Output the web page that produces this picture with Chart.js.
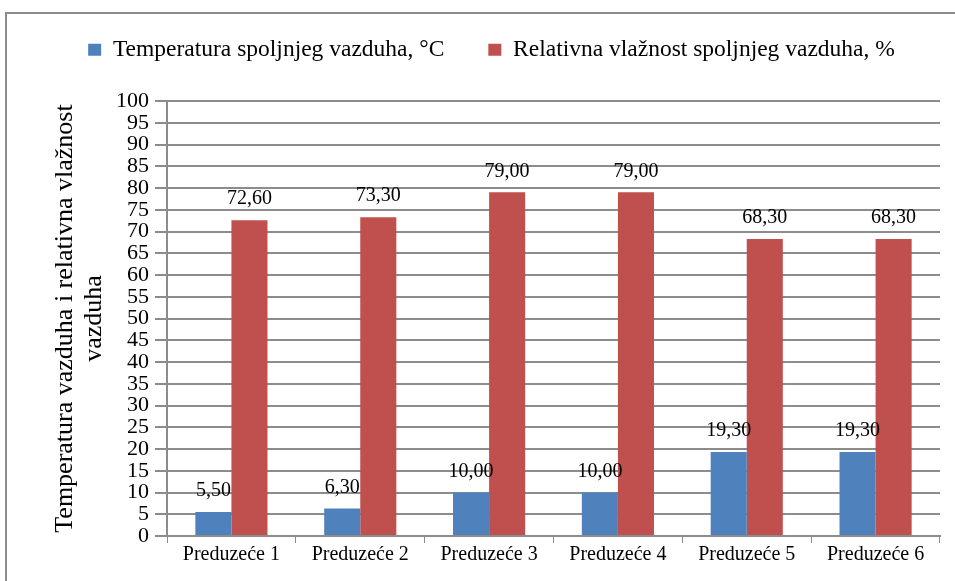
<!DOCTYPE html>
<html>
<head>
<meta charset="utf-8">
<script src="https://cdn.jsdelivr.net/npm/chart.js@4/dist/chart.umd.min.js"></script>
<style>
  body { margin: 0; background: #fff; }
  #box { position: absolute; left: 5px; top: 12px; width: 948px; height: 575px; border: 2px solid #8c8c8c; border-right: none; border-bottom: none; }
  #wrap { position: absolute; left: 0; top: 0; width: 948px; height: 569px; }
</style>
</head>
<body>
<div id="box"><div id="wrap"><canvas id="myChart"></canvas></div></div>
<script>
const labels = ["Preduzeće 1", "Preduzeće 2", "Preduzeće 3", "Preduzeće 4", "Preduzeće 5", "Preduzeće 6"];
const temperature = [5.5, 6.3, 10.0, 10.0, 19.3, 19.3];
const humidity = [72.6, 73.3, 79.0, 79.0, 68.3, 68.3];

// value labels above each bar, with a comma decimal
const barLabels = {
  id: "barLabels",
  afterDatasetsDraw(chart) {
    const ctx = chart.ctx;
    ctx.save();
    ctx.font = "20px 'Liberation Serif'";
    ctx.fillStyle = "#000";
    ctx.textAlign = "center";
    ctx.textBaseline = "bottom";
    chart.data.datasets.forEach((ds, i) => {
      chart.getDatasetMeta(i).data.forEach((bar, j) => {
        const txt = ds.data[j].toFixed(2).replace(".", ",");
        ctx.fillText(txt, bar.x, bar.y - 11);
      });
    });
    ctx.restore();
  },
};

// wide gap between legend items, fixed legend height
const legendGap = {
  id: "legendGap",
  beforeUpdate(chart) {
    const lg = chart.legend;
    if (lg && !lg._gapPatched) {
      const fit = lg.fit;
      lg.fit = function () {
        fit.call(this);
        this.height = 81;
      };
      const draw = lg.draw;
      lg.draw = function () {
        const ctx = this.ctx;
        ctx.save();
        ctx.translate(18, -26);
        draw.call(this);
        ctx.restore();
      };
      lg._gapPatched = true;
    }
  },
};

const data = {
  labels: labels,
  datasets: [
    {
      label: "Temperatura spoljnjeg vazduha, °C",
      backgroundColor: "#4f81bd",
      data: temperature,
    },
    {
      label: "Relativna vlažnost spoljnjeg vazduha, %",
      backgroundColor: "#c0504d",
      data: humidity,
    },
  ],
};

const config = {
  type: "bar",
  data: data,
  options: {
    responsive: true,
    maintainAspectRatio: false,
    animation: false,
    datasets: { bar: { barPercentage: 1, categoryPercentage: 0.56 } },
    layout: { padding: { left: 0, right: 15, top: 6, bottom: 16 } },
    plugins: {
      legend: {
        position: "top",
        labels: {
          boxWidth: 13,
          boxHeight: 12,
          padding: 44,
          color: "#000",
          font: { family: "'Liberation Serif'", size: 23.5 },
        },
      },
      tooltip: { enabled: false },
    },
    scales: {
      x: {
        grid: { drawOnChartArea: false, color: "#8c8c8c", tickLength: 7 },
        border: { color: "#8c8c8c", width: 2 },
        ticks: { color: "#000", padding: 0, font: { family: "'Liberation Serif'", size: 20 } },
      },
      y: {
        min: 0,
        max: 100,
        afterFit(scale) { scale.width = 160; },
        ticks: { stepSize: 5, color: "#000", padding: 6, autoSkip: false, font: { family: "'Liberation Serif'", size: 22, lineHeight: 1 } },
        grid: { color: "#8c8c8c", lineWidth: 2, tickLength: 12 },
        border: { color: "#8c8c8c", width: 2 },
        title: {
          display: true,
          text: ["Temperatura vazduha i relativna vlažnost", "vazduha"],
          color: "#000",
          padding: { top: 44, bottom: 0 },
          font: { family: "'Liberation Serif'", size: 26, lineHeight: 1.1 },
        },
      },
    },
  },
  plugins: [barLabels, legendGap],
};
const myChart = new Chart(document.getElementById("myChart"), config);
</script>
</body>
</html>
